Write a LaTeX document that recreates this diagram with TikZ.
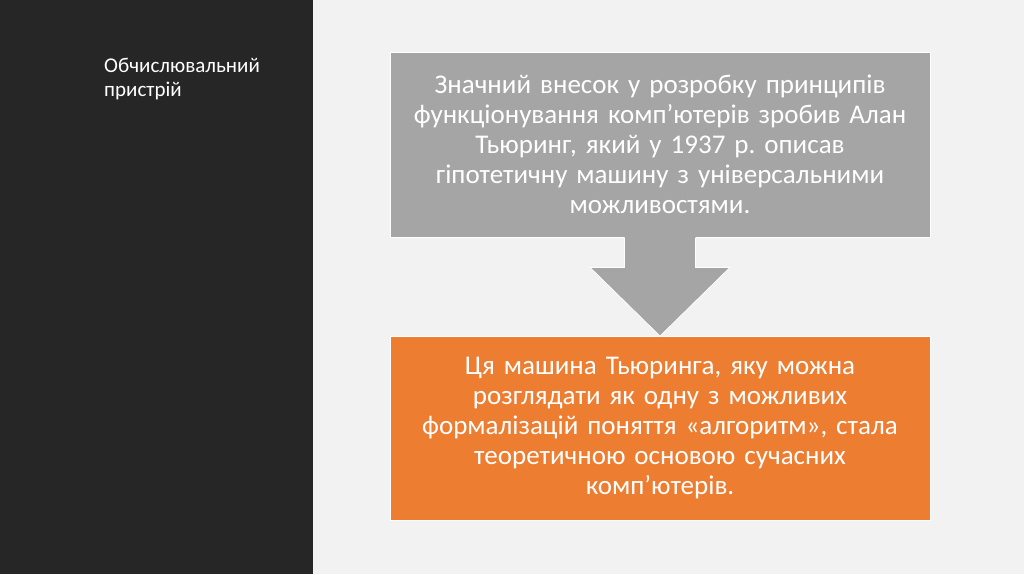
\documentclass[tikz,border=0pt]{standalone}
\usepackage{fontspec}
\setmainfont{Carlito}
\usetikzlibrary{calc}
\definecolor{darkpanel}{HTML}{262626}
\definecolor{slidebg}{HTML}{F2F2F2}
\definecolor{boxgray}{HTML}{A5A5A5}
\definecolor{boxorange}{HTML}{ED7D31}
\frenchspacing
\tikzset{
  textbox/.style={draw=white, line width=0.8pt, text=white, align=center,
    minimum width=540pt, text width=530pt, font=\fontsize{27}{30}\selectfont}
}

\begin{document}
\begin{tikzpicture}[x=1pt, y=-1pt]
		%%%%% START %%%%%
		
		\useasboundingbox (0, 0) rectangle (1024, 574);
		\fill[slidebg] (0, 0) rectangle (1024, 574);
		\fill[darkpanel] (0, 0) rectangle (313, 574);
		
		\node[text=white, anchor=base west, align=left, inner sep=0pt,
		  font=\fontsize{21}{23.5}\selectfont] (title) at (104, 96) {Обчислювальний\\пристрій};
		
		\node[textbox, fill=boxgray, minimum height=185pt] (turing) at (660, 144.5)
		  {Значний внесок у розробку принципів\\функціонування комп’ютерів зробив Алан\\Тьюринг, який у 1937 р. описав\\гіпотетичну машину з універсальними\\можливостями.};
		
		\node[textbox, fill=boxorange, minimum height=184pt] (machine) at (660, 428.5)
		  {Ця машина Тьюринга, яку можна\\розглядати як одну з можливих\\формалізацій поняття «алгоритм», стала\\теоретичною основою сучасних\\комп’ютерів.};
		
		% block arrow between the boxes
		\fill[boxgray] ($(turing.south)+(-35.5, -1)$) -- ($(turing.south)+(-35.5, 30)$) -- ($(turing.south)+(-70, 30)$)
		  -- (machine.north) -- ($(turing.south)+(70, 30)$) -- ($(turing.south)+(35.5, 30)$) -- ($(turing.south)+(35.5, -1)$) -- cycle;
		\draw[white, line width=0.8pt] ($(turing.south)+(-35.5, 0.4)$) -- ($(turing.south)+(-35.5, 30)$) -- ($(turing.south)+(-70, 30)$)
		  -- (machine.north) -- ($(turing.south)+(70, 30)$) -- ($(turing.south)+(35.5, 30)$) -- ($(turing.south)+(35.5, 0.4)$);
		
		%%%%% END %%%%%
	\end{tikzpicture}
\end{document}
